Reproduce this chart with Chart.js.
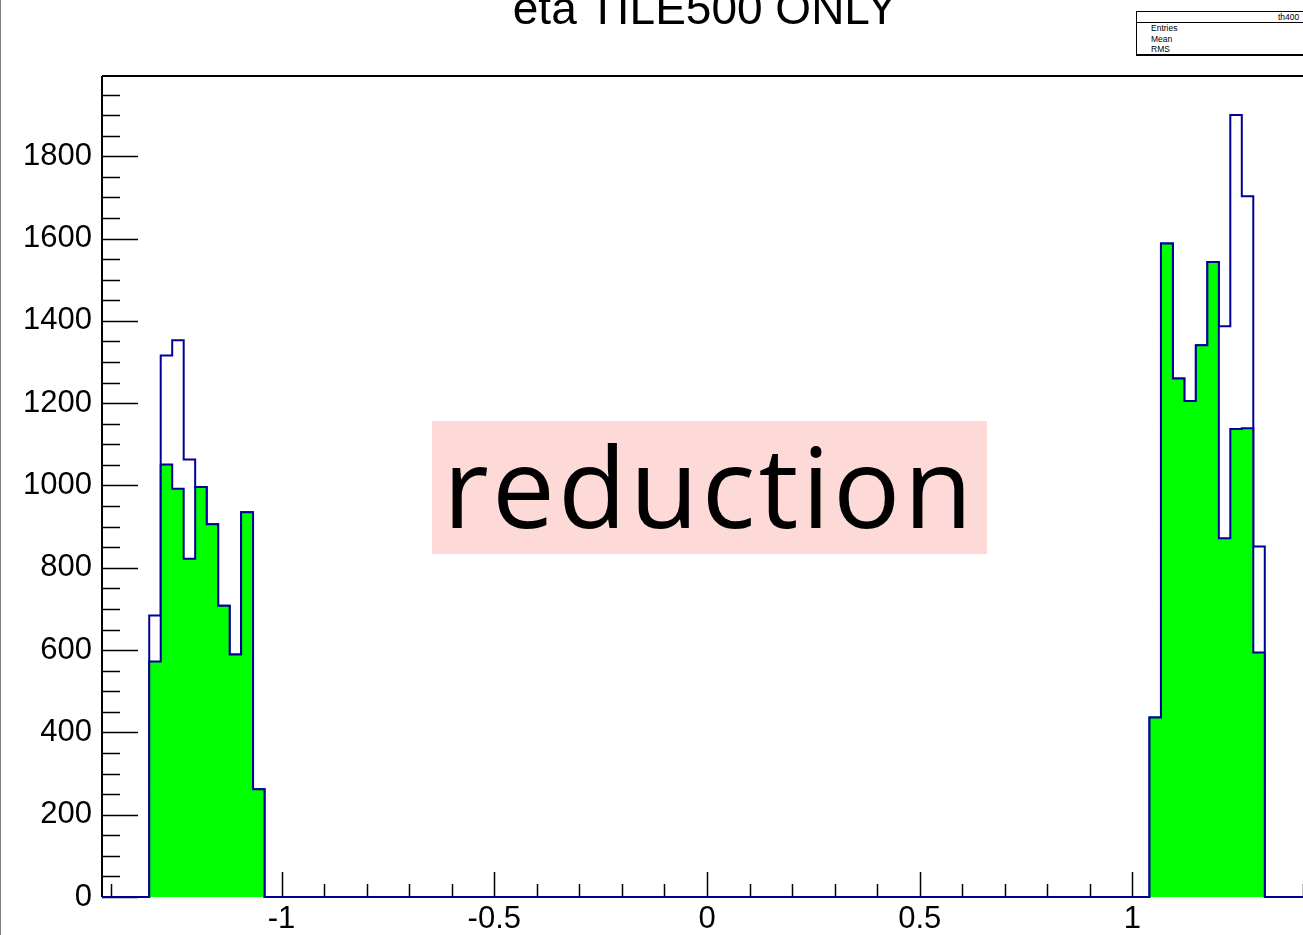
<!DOCTYPE html>
<html>
<head>
<meta charset="utf-8">
<script src="https://cdn.jsdelivr.net/npm/chart.js@4"></script>
<style>
  html, body { margin: 0; padding: 0; background: #fff; overflow: hidden; width: 1303px; height: 935px; }
  #wrap { position: absolute; left: 0; top: 0; width: 1312px; height: 935px; }
  #edge { position: absolute; left: 0; top: 0; width: 1px; height: 935px; background: #808080; }
  #title { position: absolute; left: 0; top: -15px; width: 1410px; text-align: center;
           font: 46px/46px "Liberation Sans", Arial, sans-serif; color: #000; white-space: nowrap; }
  #stats { position: absolute; left: 1136px; top: 11px; width: 190px; height: 42px;
           border: 1.5px solid #000; border-bottom-width: 2px; background: #fff;
           font: 8.5px/10px "Liberation Sans", Arial, sans-serif; color: #000; }
  #stats .hd { position: absolute; left: 0; top: 0; width: 100%; height: 10px; border-bottom: 1px solid #000; }
  #stats .hd span { position: absolute; left: 141px; top: 0px; }
  #stats .row { position: absolute; left: 14px; }
  #note { position: absolute; left: 432px; top: 421px; width: 555px; height: 133px; background: #fdd9d8; }
  #note span { position: absolute; left: 11px; top: 8px; font: 112px/112px "Open Sans", sans-serif;
               letter-spacing: 3.2px; color: #000; white-space: nowrap; }
</style>
</head>
<body>
<div id="wrap"><canvas id="etaChart" width="1312" height="935"></canvas></div>
<div id="edge"></div>
<div id="title">eta TILE500 ONLY</div>
<div id="stats">
  <div class="hd"><span>th400</span></div>
  <div class="row" style="top:11px">Entries</div>
  <div class="row" style="top:22px">Mean</div>
  <div class="row" style="top:32px">RMS</div>
</div>
<div id="note"><span>reduction</span></div>
<script>
// bin low edges (last entry = upper edge of the last bin)
var edgesNeg = [-1.311, -1.284, -1.257, -1.230, -1.203, -1.176, -1.149, -1.122, -1.095, -1.067, -1.040];
var edgesPos = [1.040, 1.067, 1.095, 1.122, 1.149, 1.176, 1.203, 1.230, 1.257, 1.284, 1.311];

// counts per bin, before (blue outline) and after (green fill)
var beforeNeg = [684, 1316, 1353, 1063, 996, 906, 708, 589, 935, 262];
var afterNeg  = [572, 1051, 992, 822, 996, 906, 708, 589, 935, 262];
var beforePos = [436, 1588, 1260, 1205, 1341, 1543, 1387, 1900, 1703, 852];
var afterPos  = [436, 1588, 1260, 1205, 1341, 1543, 872, 1137, 1139, 594];

var xMin = -1.422, xMax = 1.422;
var yMin = 0, yMax = 1995;
var xTickLabels = [-1, -0.5, 0, 0.5, 1];
var yTickLabels = [0, 200, 400, 600, 800, 1000, 1200, 1400, 1600, 1800];

var navy = '#000099';

// turn bins into step points for a stepped line
function stepPoints(edgesA, valsA, edgesB, valsB) {
    var pts = [{x: xMin, y: 0}];
    for (var i = 0; i < valsA.length; i++) pts.push({x: edgesA[i], y: valsA[i]});
    pts.push({x: edgesA[edgesA.length - 1], y: 0});
    for (var j = 0; j < valsB.length; j++) pts.push({x: edgesB[j], y: valsB[j]});
    pts.push({x: edgesB[edgesB.length - 1], y: 0});
    pts.push({x: xMax, y: 0});
    return pts;
}

// frame + ROOT style inward ticks
var frameTicks = {
    id: 'frameTicks',
    beforeDatasetsDraw: function(chart) {
        var ctx = chart.ctx, a = chart.chartArea;
        var xs = chart.scales.x, ys = chart.scales.y;
        ctx.save();
        ctx.strokeStyle = '#000';
        ctx.lineWidth = 1.5;
        ctx.beginPath();
        for (var v = 0; v <= 1950; v += 50) {
            var py = Math.round(ys.getPixelForValue(v)) + 0.5;
            var len = (v % 200 === 0) ? 36 : 18;
            ctx.moveTo(a.left, py);
            ctx.lineTo(a.left + len, py);
        }
        for (var k = -14; k <= 14; k++) {
            var px = Math.round(xs.getPixelForValue(k / 10)) + 0.5;
            var l = (k % 5 === 0) ? 25 : 13;
            ctx.moveTo(px, a.bottom);
            ctx.lineTo(px, a.bottom - l);
        }
        ctx.stroke();
        ctx.lineWidth = 2;
        ctx.beginPath();
        ctx.moveTo(a.left, a.top);
        ctx.lineTo(a.right, a.top);
        ctx.moveTo(a.left, a.top);
        ctx.lineTo(a.left, a.bottom);
        ctx.stroke();
        ctx.restore();
    }
};

document.addEventListener("DOMContentLoaded", function() {
    var ctx = document.getElementById('etaChart').getContext('2d');

    new Chart(ctx, {
        type: 'line',
        data: {
            datasets: [
                {
                    label: 'after',
                    data: stepPoints(edgesNeg, afterNeg, edgesPos, afterPos),
                    stepped: true,
                    borderColor: navy,
                    borderWidth: 2,
                    backgroundColor: '#00ff00',
                    fill: 'origin',
                    pointRadius: 0,
                    clip: false
                },
                {
                    label: 'before',
                    data: stepPoints(edgesNeg, beforeNeg, edgesPos, beforePos),
                    stepped: true,
                    borderColor: navy,
                    borderWidth: 2,
                    fill: false,
                    pointRadius: 0,
                    clip: false
                }
            ]
        },
        options: {
            responsive: false,
            animation: false,
            devicePixelRatio: 1,
            layout: { padding: { top: 76, left: 0, right: 0, bottom: 0 } },
            plugins: {
                legend: { display: false },
                tooltip: { enabled: false },
                title: { display: false }
            },
            scales: {
                x: {
                    type: 'linear',
                    min: xMin,
                    max: xMax,
                    grid: { display: false, drawTicks: false },
                    border: { display: false },
                    afterBuildTicks: function(s) {
                        s.ticks = xTickLabels.map(function(v) { return {value: v}; });
                    },
                    afterFit: function(s) { s.height = 38; },
                    ticks: {
                        autoSkip: false,
                        maxRotation: 0,
                        padding: 4,
                        color: '#000',
                        font: { family: 'Liberation Sans', size: 31 },
                        callback: function(value) { return String(value); }
                    }
                },
                y: {
                    type: 'linear',
                    min: yMin,
                    max: yMax,
                    grid: { display: false, drawTicks: false },
                    border: { display: false },
                    afterBuildTicks: function(s) {
                        s.ticks = yTickLabels.map(function(v) { return {value: v}; });
                    },
                    afterFit: function(s) { s.width = 102; },
                    ticks: {
                        autoSkip: false,
                        padding: 10,
                        color: '#000',
                        font: { family: 'Liberation Sans', size: 31 },
                        callback: function(value) { return String(value); }
                    }
                }
            }
        },
        plugins: [frameTicks]
    });
});
</script>
</body>
</html>
